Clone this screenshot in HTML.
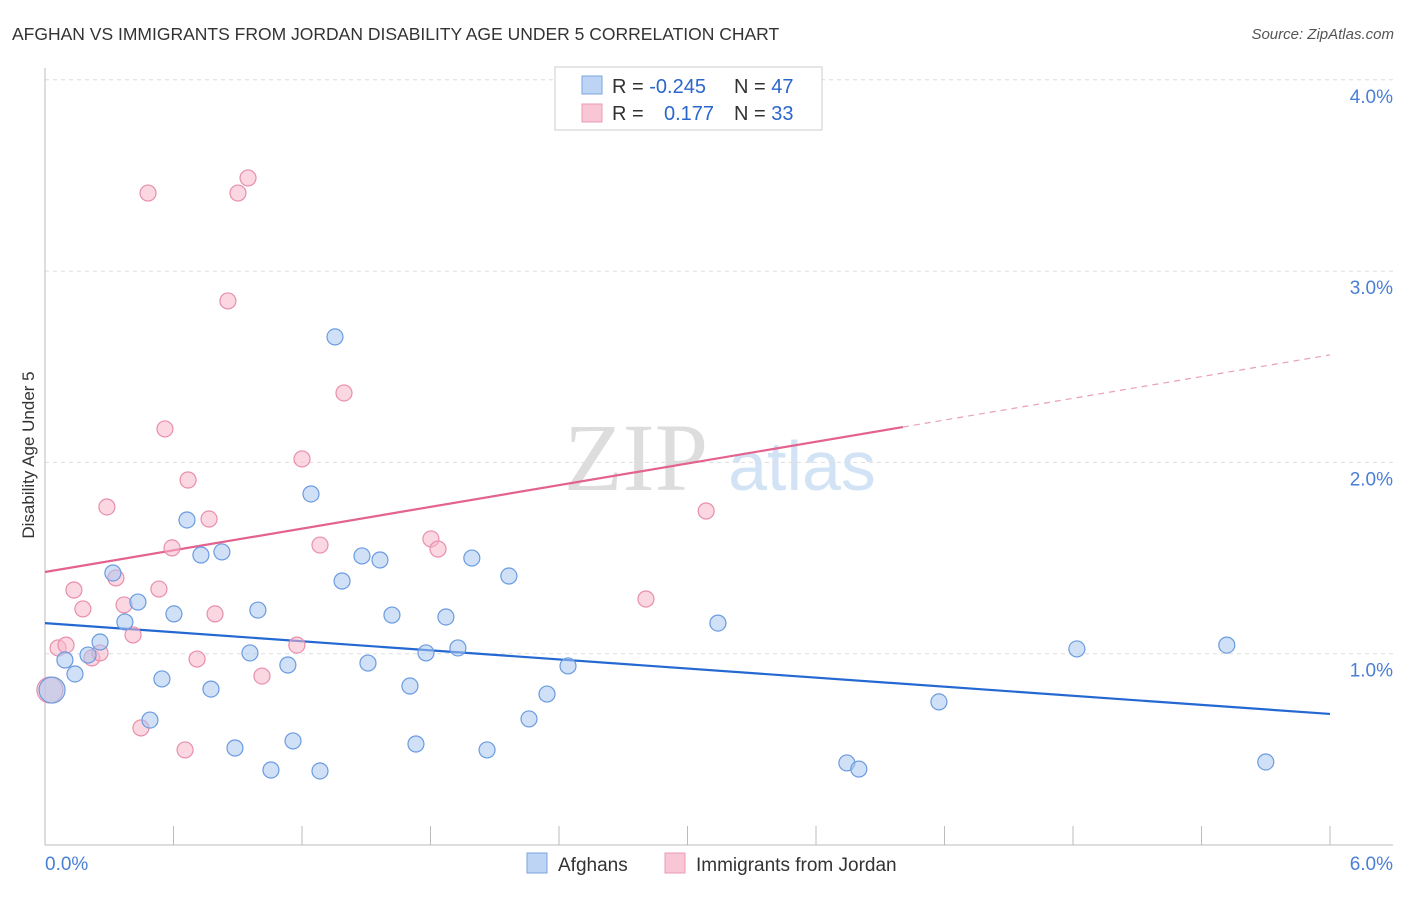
<!DOCTYPE html>
<html><head><meta charset="utf-8"><style>
body{margin:0;background:#fff;font-family:"Liberation Sans",sans-serif}
svg text{font-family:"Liberation Sans",sans-serif}
svg text.serif{font-family:"Liberation Serif",serif}
</style></head><body>
<svg id="c" width="1406" height="892" xmlns="http://www.w3.org/2000/svg">
<text x="12" y="40" font-size="17.5" fill="#333">AFGHAN VS IMMIGRANTS FROM JORDAN DISABILITY AGE UNDER 5 CORRELATION CHART</text>
<text x="1394" y="39" font-size="15" fill="#555" font-style="italic" text-anchor="end">Source: ZipAtlas.com</text>
<g>
<text class="serif" x="636" y="490" font-size="96" fill="#ddd" text-anchor="middle">ZIP</text>
<text x="802" y="490" font-size="70" fill="#d3e3f6" text-anchor="middle">atlas</text></g>
<g id="grid"></g><g id="axes"></g><g id="lines"></g><g id="pts"></g>
<text transform="translate(34,455) rotate(-90)" font-size="17" fill="#333" text-anchor="middle">Disability Age Under 5</text>
<g>
<rect x="555" y="67" width="267" height="63" fill="#fff" stroke="#ccc"/>
<rect x="582" y="76" width="20" height="18" fill="#bdd4f4" stroke="#7aa5e2"/>
<rect x="582" y="104" width="20" height="18" fill="#f9c6d6" stroke="#eb9ab5"/>
<text x="612" y="93" font-size="20" fill="#333">R = <tspan fill="#2a66cc">-0.245</tspan><tspan x="734">N = </tspan><tspan fill="#2a66cc">47</tspan></text>
<text x="612" y="120" font-size="20" fill="#333">R = <tspan x="664" fill="#2a66cc">0.177</tspan><tspan x="734">N = </tspan><tspan fill="#2a66cc">33</tspan></text>
</g>
<g>
<rect x="527" y="853" width="20" height="20" fill="#bdd4f4" stroke="#7aa5e2"/>
<text x="558" y="871" font-size="19" fill="#333">Afghans</text>
<rect x="665" y="853" width="20" height="20" fill="#f9c6d6" stroke="#eb9ab5"/>
<text x="696" y="871" font-size="19" fill="#333">Immigrants from Jordan</text>
</g>
</svg>
<script>
const blueX=[0.033,0.093,0.140,0.201,0.257,0.317,0.373,0.434,0.490,0.546,0.602,0.663,0.728,0.775,0.826,0.887,0.957,0.994,1.055,1.134,1.158,1.242,1.284,1.354,1.387,1.480,1.508,1.564,1.620,1.704,1.732,1.779,1.872,1.928,1.993,2.064,2.166,2.260,2.344,2.442,3.142,3.744,3.800,4.174,4.818,5.518,5.700];
const blueY=[0.810,0.967,0.894,0.993,1.061,1.422,1.166,1.270,0.653,0.868,1.208,1.699,1.516,0.815,1.532,0.507,1.004,1.228,0.392,0.941,0.544,1.835,0.387,2.656,1.380,1.511,0.951,1.490,1.202,0.831,0.528,1.004,1.192,1.030,1.500,0.497,1.406,0.659,0.789,0.936,1.160,0.429,0.397,0.748,1.025,1.045,0.434];
const pinkX=[0.023,0.061,0.098,0.135,0.177,0.219,0.257,0.289,0.331,0.369,0.411,0.448,0.481,0.532,0.560,0.593,0.654,0.668,0.710,0.766,0.794,0.854,0.901,0.948,1.013,1.176,1.200,1.284,1.396,1.802,1.835,2.806,3.087];
const pinkY=[0.810,1.030,1.045,1.333,1.234,0.978,1.004,1.767,1.396,1.255,1.098,0.612,3.408,1.338,2.175,1.553,0.497,1.908,0.972,1.704,1.208,2.844,3.408,3.487,0.883,1.045,2.018,1.568,2.363,1.600,1.547,1.286,1.746];
const yTicks=[1,2,3,4];
const yTickLabels=["1.0%","2.0%","3.0%","4.0%"];
const xTickLabels=["0.0%","6.0%"];
const blueTrend=[1.160,0.685];
const pinkTrend=[1.427,2.562];
const pinkSolidEnd=4.006;
const NS="http://www.w3.org/2000/svg";
const X=v=>45+v*214.17, Y=v=>845-v*191.3;
function mk(p,t,a){const e=document.createElementNS(NS,t);for(const k in a)e.setAttribute(k,a[k]);document.getElementById(p).appendChild(e);return e;}
yTicks.forEach((t,i)=>{
 const g=mk('grid','line',{x1:45,x2:1393,y1:Y(t),y2:Y(t),stroke:'#ddd','stroke-dasharray':'4,4'});
 
 
 const l=mk('axes','text',{x:1393,y:Y(t)+23,'font-size':19,fill:'#4a7fd6','text-anchor':'end'});
 l.textContent=yTickLabels[i];
 
 
});
let a=mk('axes','line',{x1:45,x2:45,y1:68,y2:845,stroke:'#bbb'});


a=mk('axes','line',{x1:45,x2:1393,y1:845,y2:845,stroke:'#bbb'});


for(let i=0;i<=10;i++){const t=mk('axes','line',{x1:X(i*0.6),x2:X(i*0.6),y1:826,y2:845,stroke:'#bbb'});
 
 }
[[0,'start',45],[6,'end',1393]].forEach((d,i)=>{const t=mk('axes','text',{x:d[2],y:870,'font-size':19,fill:'#4a7fd6','text-anchor':d[1]});t.textContent=xTickLabels[i];
 
 });
function pts(xs,ys,fill,stroke,name){xs.forEach((x,i)=>{const c=mk('pts','circle',{cx:X(x),cy:Y(ys[i]),r:i==0?13:8,fill:fill,'fill-opacity':0.55,stroke:stroke,'stroke-width':1.2});
 
 });}
pts(pinkX,pinkY,'#f7b6ca','#e88eac','point-jordan');
pts(blueX,blueY,'#a9c6ef','#6a9be0','point-afghans');
let L=mk('lines','line',{x1:X(0),y1:Y(blueTrend[0]),x2:X(6),y2:Y(blueTrend[1]),stroke:'#2468d2','stroke-width':2.2});


const py=v=>pinkTrend[0]+(pinkTrend[1]-pinkTrend[0])*v/6;
L=mk('lines','line',{x1:X(0),y1:Y(py(0)),x2:X(pinkSolidEnd),y2:Y(py(pinkSolidEnd)),stroke:'#e3628f','stroke-width':2.2});


L=mk('lines','line',{x1:X(pinkSolidEnd),y1:Y(py(pinkSolidEnd)),x2:X(6),y2:Y(py(6)),stroke:'#e8a0b8','stroke-width':1.2,'stroke-dasharray':'6,5'});


</script>
</body></html>
